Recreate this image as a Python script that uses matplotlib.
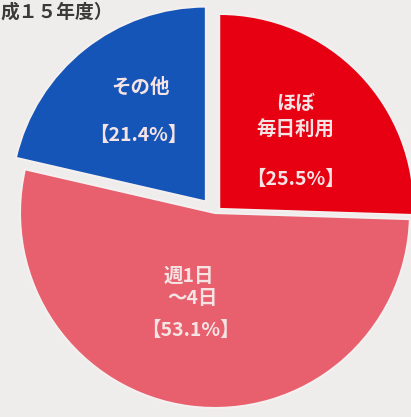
import matplotlib
matplotlib.use("Agg")
import matplotlib.pyplot as plt

plt.rcParams['font.family'] = ['Noto Sans CJK JP', 'DejaVu Sans']

# データ
categories = ["ほぼ\n毎日利用", "週1日\n～4日", "その他"]
values = [25.5, 53.1, 21.4]
colors = ['#e60012', '#e8606e', '#1655b8']
explode = [0.03, 0.0, 0.075]

# ピクセル座標 -> データ座標
W, H = 411, 417
cx, cy, R = 215, 213, 195

def px(x, y):
    return (x - cx) / R, (cy - y) / R

fig = plt.figure(figsize=(W / 100, H / 100), dpi=100)
fig.patch.set_facecolor('#efedeb')
ax = fig.add_axes([0, 0, 1, 1])
ax.set_facecolor('#efedeb')

ax.pie(values, colors=colors, explode=explode, startangle=90, counterclock=False,
       radius=1, wedgeprops=dict(edgecolor='#f4f0f0', linewidth=1.5))

ax.set_aspect('auto')
ax.set_xlim(-cx / R, (W - cx) / R)
ax.set_ylim(-(H - cy) / R, cy / R)
ax.axis('off')

txt = '#f6e4e4'
kw = dict(ha='center', va='center', color=txt, fontsize=14, fontweight='bold')

# 赤
ax.text(*px(296, 103), "ほぼ", **kw)
ax.text(*px(295, 130), "毎日利用", **kw)
ax.text(*px(295, 179), f"【{values[0]}%】", **kw)
# ピンク
ax.text(*px(189, 276), "週1日", **kw)
ax.text(*px(192, 298), "～4日", **kw)
ax.text(*px(190, 330), f"【{values[1]}%】", **kw)
# 青
ax.text(*px(140, 87), "その他", **kw)
ax.text(*px(138, 135), f"【{values[2]}%】", **kw)

# 見出し（左端で切れている部分）
ax.text(*px(1, 12), "成１５年度）", ha='left', va='center',
        color='#3a3a3a', fontsize=13.5, fontweight='bold')

fig.savefig("out.png", dpi=100, facecolor=fig.get_facecolor())
